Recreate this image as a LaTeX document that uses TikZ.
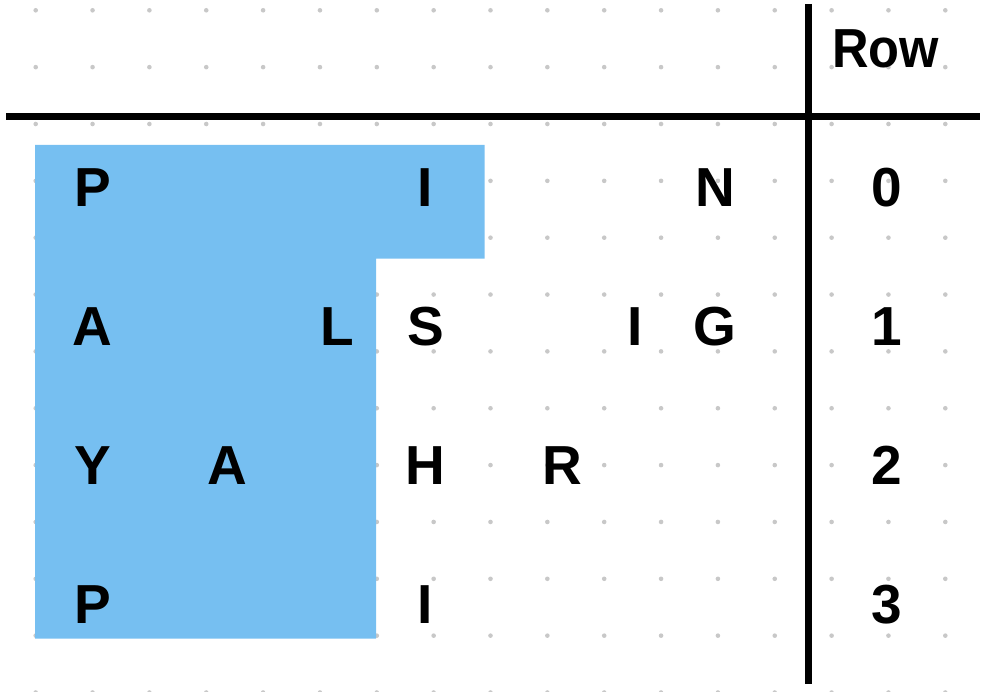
\documentclass[tikz,border=0pt]{standalone}
\usepackage{fontspec}
\setmainfont{Liberation Sans}
\definecolor{dotgray}{RGB}{200,200,200}
\definecolor{hlblue}{RGB}{118,191,241}
\begin{document}
\begin{tikzpicture}[x=1pt,y=-1pt,
  letter/.style={anchor=base,inner sep=0pt,font=\fontsize{55}{60}\selectfont\bfseries},
  rule/.style={line width=7pt,black}]
\useasboundingbox (0,0) rectangle (990,692);
% dot grid
\foreach \i in {0,...,16}{
  \foreach \j in {0,...,12}{
    \fill[dotgray] ({35.7+56.85*\i},{10.3+56.85*\j}) circle (2.3);
  }
}
% highlighted region
\fill[hlblue] (35,145) -- (484.7,145) -- (484.7,258.7) -- (376,258.7) -- (376,638.7) -- (35,638.7) -- cycle;
% rules
\coordinate (hl) at (6,116.3);
\coordinate (hr) at (980,116.3);
\coordinate (vt) at (808.3,4);
\coordinate (vb) at (808.3,683.7);
\draw[rule] (hl) -- (hr);
\draw[rule] (vt) -- (vb);
% header
\node[letter] (hdr) at (885.5,68) {\scalebox{0.92}[1]{Row}};
% row 0
\node[letter] (r0a) at (92.5,207) {P};
\node[letter] (r0b) at (425.5,207) {I};
\node[letter] (r0c) at (715.5,207) {N};
\node[letter] (n0) at (886.5,207) {0};
% row 1
\node[letter] (r1a) at (92.5,345.5) {A};
\node[letter] (r1b) at (337.5,345.5) {L};
\node[letter] (r1c) at (425.5,345.5) {S};
\node[letter] (r1d) at (635.3,345.5) {I};
\node[letter] (r1e) at (715.3,345.5) {G};
\node[letter] (n1) at (886.5,345.5) {1};
% row 2
\node[letter] (r2a) at (92.5,484.5) {Y};
\node[letter] (r2b) at (227,484.5) {A};
\node[letter] (r2c) at (425.5,484.5) {H};
\node[letter] (r2d) at (562,484.5) {R};
\node[letter] (n2) at (886.5,484.5) {2};
% row 3
\node[letter] (r3a) at (92.5,623) {P};
\node[letter] (r3b) at (425.5,623) {I};
\node[letter] (n3) at (886.5,623) {3};
\end{tikzpicture}
\end{document}
